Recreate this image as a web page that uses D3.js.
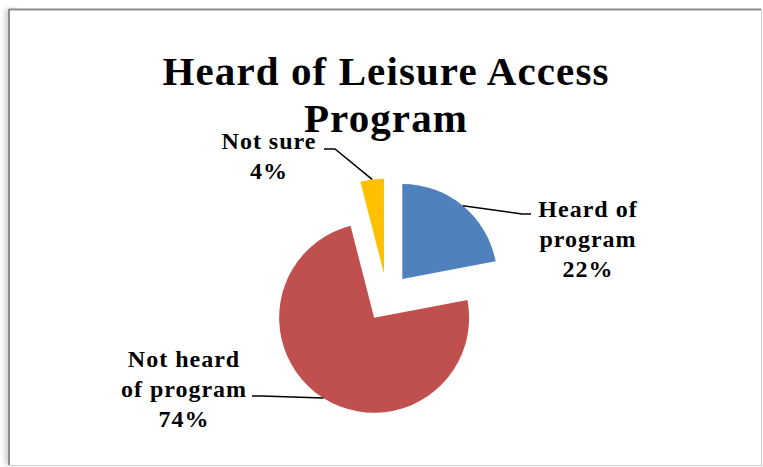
<!DOCTYPE html>
<html>
<head>
<meta charset="utf-8">
<script src="https://cdn.jsdelivr.net/npm/d3@7"></script>
<style>
  html, body { margin: 0; padding: 0; background: #ffffff; }
  svg { display: block; }
  .serif { font-family: "Liberation Serif", "DejaVu Serif", "Noto Serif", "Times New Roman", serif; }
</style>
</head>
<body>
<svg id="chart" width="763" height="467"></svg>
<script>
// Survey answers and their shares (percent)
const categories = ["Heard of program", "Not heard of program", "Not sure"];
const values = [22, 74, 4];
const labelLines = [["Heard of", "program", "22%"], ["Not heard", "of program", "74%"], ["Not sure", "4%"]];
const colors = ["#4f81bd", "#c0504d", "#ffc000"];
const titleLines = ["Heard of Leisure Access", "Program"];

const svg = d3.select("#chart");

// Chart frame with a soft shadow on the left edge
const defs = svg.append("defs");
const f = defs.append("filter").attr("id", "shadow").attr("x", "-50%").attr("y", "-5%").attr("width", "200%").attr("height", "110%");
f.append("feGaussianBlur").attr("stdDeviation", 2.5);
svg.append("rect").attr("x", 5).attr("y", 9).attr("width", 10).attr("height", 456)
  .attr("fill", "#d0d0d0").attr("filter", "url(#shadow)");
svg.append("rect").attr("x", 9).attr("y", 9).attr("width", 752).attr("height", 456).attr("fill", "#ffffff");
svg.append("line").attr("x1", 9).attr("y1", 9.5).attr("x2", 761).attr("y2", 9.5).attr("stroke", "#8c8c8c").attr("stroke-width", 2);
svg.append("line").attr("x1", 9).attr("y1", 9).attr("x2", 9).attr("y2", 465).attr("stroke", "#8c8c8c").attr("stroke-width", 2);
svg.append("line").attr("x1", 761.5).attr("y1", 9).attr("x2", 761.5).attr("y2", 465).attr("stroke", "#cfcfcf").attr("stroke-width", 1);
svg.append("line").attr("x1", 9).attr("y1", 465.5).attr("x2", 762).attr("y2", 465.5).attr("stroke", "#cfcfcf").attr("stroke-width", 1);

// Title
const title = svg.append("text").attr("class", "serif").attr("text-anchor", "middle")
  .attr("font-weight", "bold").attr("font-size", 41).attr("letter-spacing", 1.1).attr("fill", "#000");
titleLines.forEach((t, i) => {
  title.append("tspan").attr("x", 386).attr("y", 85 + i * 47).text(t);
});

// Exploded pie
const cx = 387, cy = 297.5, r = 95, explode = 24;
const pie = d3.pie().sort(null).value(d => d)(values);
const arc = d3.arc().innerRadius(0).outerRadius(r);

const slices = pie.map((p, i) => {
  const mid = (p.startAngle + p.endAngle) / 2;
  const ox = explode * Math.sin(mid), oy = -explode * Math.cos(mid);
  return { p, i, mid, ox, oy };
});

const g = svg.append("g").attr("transform", `translate(${cx},${cy})`);
g.selectAll("path.slice").data(slices).join("path")
  .attr("class", "slice")
  .attr("transform", d => `translate(${d.ox},${d.oy})`)
  .attr("d", d => arc(d.p))
  .attr("fill", d => colors[d.i]);

// Label anchors (text centre x, first baseline y) and leader line ends
const labelPos = [
  { x: 588, y: 217, elbow: [522, 214], end: [531, 214] },
  { x: 184, y: 367, elbow: [262, 396], end: [252, 396] },
  { x: 269, y: 149, elbow: [335, 149], end: [324, 149] }
];

slices.forEach(s => {
  const ax = cx + s.ox + r * Math.sin(s.mid);
  const ay = cy + s.oy - r * Math.cos(s.mid);
  const lp = labelPos[s.i];
  svg.append("polyline")
    .attr("points", [[ax, ay], lp.elbow, lp.end].map(p => p.join(",")).join(" "))
    .attr("fill", "none").attr("stroke", "#000").attr("stroke-width", 1.5);
  const t = svg.append("text").attr("class", "serif").attr("text-anchor", "middle")
    .attr("font-weight", "bold").attr("font-size", 24).attr("letter-spacing", 1.0).attr("fill", "#000");
  labelLines[s.i].forEach((line, k) => {
    t.append("tspan").attr("x", lp.x).attr("y", lp.y + k * 30).text(line);
  });
});
</script>
</body>
</html>
